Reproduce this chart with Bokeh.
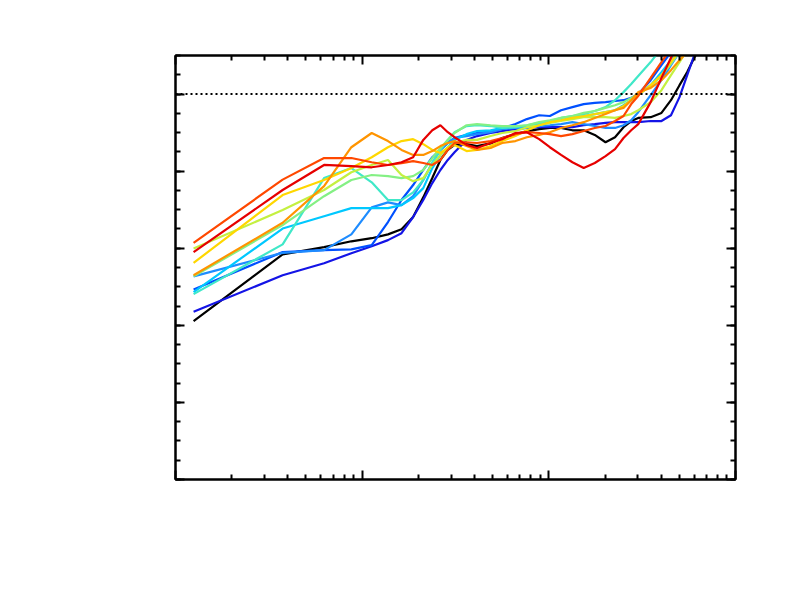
from bokeh.plotting import figure
from bokeh.models import Range1d, LogAxis, LinearAxis, FixedTicker, Span
from bokeh.embed import file_html
from bokeh.resources import INLINE

# frequency bins (shared x values)
x_vals = [1.25, 3.75, 6.25, 8.75, 11.25, 13.75, 16.25, 18.75, 21.25, 23.75, 26.25,
          28.75, 31.25, 36.25, 41.25, 48.75, 56.25, 66.25, 76.25, 88.75, 101.25,
          116.25, 133.75, 153.75, 176.25, 201.25, 226.25, 251.25, 276.25, 301.25,
          351.25, 401.25, 451.25, 501.25, 551.25, 601.25, 651.25, 701.25]

s_black = [0.411, 0.584, 0.603, 0.618, 0.626, 0.636, 0.649, 0.681, 0.732, 0.782, 0.829, 0.855,
           0.868, 0.870, 0.865, 0.872, 0.886, 0.896, 0.903, 0.909, 0.912, 0.912, 0.906, 0.906,
           0.894, 0.875, 0.888, 0.914, 0.930, 0.938, 0.940, 0.951, 0.984, 1.023, 1.057, 1.094, 1.125]
s_blue = [0.435, 0.530, 0.561, 0.587, 0.605, 0.621, 0.639, 0.681, 0.725, 0.769, 0.803, 0.829,
          0.849, 0.881, 0.891, 0.899, 0.904, 0.909, 0.912, 0.914, 0.914, 0.914, 0.914, 0.919,
          0.922, 0.925, 0.927, 0.927, 0.927, 0.927, 0.930, 0.930, 0.945, 0.992, 1.049, 1.101, 1.140]
s_royal = [0.493, 0.590, 0.595, 0.597, 0.608, 0.668, 0.725, 0.764, 0.803, 0.836, 0.855, 0.873,
           0.886, 0.894, 0.899, 0.904, 0.912, 0.922, 0.935, 0.945, 0.943, 0.958, 0.966, 0.974,
           0.977, 0.979, 0.982, 0.984, 0.990, 1.000, 1.036, 1.075, 1.109]
s_azure = [0.527, 0.588, 0.595, 0.636, 0.706, 0.719, 0.712, 0.735, 0.777, 0.821, 0.855, 0.873,
           0.886, 0.891, 0.896, 0.901, 0.909, 0.912, 0.912, 0.917, 0.919, 0.922, 0.927, 0.922,
           0.917, 0.912, 0.912, 0.919, 0.932, 0.953, 0.997, 1.036, 1.075, 1.109]
s_cyan = [0.486, 0.651, 0.683, 0.704, 0.704, 0.704, 0.712, 0.730, 0.756, 0.808, 0.842, 0.862,
          0.881, 0.896, 0.904, 0.906, 0.912, 0.914, 0.917, 0.922, 0.927, 0.932, 0.938, 0.943,
          0.948, 0.953, 0.958, 0.971, 0.984, 0.997, 1.023, 1.057, 1.088, 1.114]
s_turq = [0.481, 0.610, 0.782, 0.808, 0.771, 0.725, 0.725, 0.745, 0.777, 0.823, 0.855, 0.881,
          0.901, 0.917, 0.919, 0.917, 0.912, 0.914, 0.919, 0.925, 0.930, 0.938, 0.943, 0.948,
          0.956, 0.966, 0.984, 1.005, 1.026, 1.047, 1.083, 1.119]
s_green = [0.527, 0.660, 0.735, 0.777, 0.790, 0.787, 0.782, 0.787, 0.803, 0.834, 0.860, 0.881,
           0.899, 0.919, 0.922, 0.919, 0.917, 0.917, 0.919, 0.927, 0.932, 0.938, 0.943, 0.951,
           0.956, 0.964, 0.971, 0.979, 0.990, 1.000, 1.021, 1.047, 1.078, 1.109]
s_lime = [0.599, 0.699, 0.751, 0.797, 0.816, 0.829, 0.790, 0.774, 0.782, 0.816, 0.842, 0.862,
          0.873, 0.881, 0.881, 0.891, 0.899, 0.904, 0.914, 0.919, 0.925, 0.930, 0.935, 0.940,
          0.940, 0.940, 0.938, 0.943, 0.948, 0.958, 0.979, 1.010, 1.049, 1.083, 1.114]
s_yellow = [0.562, 0.738, 0.777, 0.808, 0.836, 0.862, 0.878, 0.883, 0.870, 0.855, 0.847, 0.860,
            0.868, 0.852, 0.855, 0.865, 0.878, 0.891, 0.906, 0.919, 0.927, 0.932, 0.938, 0.943,
            0.948, 0.953, 0.958, 0.969, 0.984, 0.997, 1.023, 1.049, 1.083, 1.114]
s_orange = [0.530, 0.666, 0.761, 0.862, 0.899, 0.878, 0.855, 0.842, 0.842, 0.852, 0.865, 0.873,
            0.878, 0.865, 0.855, 0.860, 0.873, 0.878, 0.888, 0.894, 0.901, 0.912, 0.919, 0.927,
            0.938, 0.948, 0.958, 0.964, 0.984, 1.005, 1.016, 1.036, 1.062, 1.088, 1.109]
s_redorange = [0.614, 0.778, 0.834, 0.834, 0.823, 0.816, 0.821, 0.826, 0.821, 0.816, 0.829, 0.855,
               0.873, 0.875, 0.873, 0.878, 0.886, 0.896, 0.901, 0.899, 0.896, 0.891, 0.896, 0.904,
               0.912, 0.917, 0.930, 0.943, 0.974, 0.995, 1.042, 1.083, 1.119]
s_red = [0.590, 0.751, 0.816, 0.813, 0.810, 0.816, 0.823, 0.836, 0.881, 0.906, 0.919, 0.901,
         0.888, 0.868, 0.860, 0.873, 0.883, 0.899, 0.901, 0.883, 0.862, 0.842, 0.823, 0.808,
         0.821, 0.839, 0.857, 0.886, 0.906, 0.922, 0.979, 1.042, 1.094, 1.140]

series = [
    (s_black, "#000000"),
    (s_blue, "#1414e6"),
    (s_royal, "#0050ff"),
    (s_azure, "#1e8cff"),
    (s_cyan, "#00c8ff"),
    (s_turq, "#40e8c8"),
    (s_green, "#84f084"),
    (s_lime, "#c4f040"),
    (s_yellow, "#ffd700"),
    (s_orange, "#ff9400"),
    (s_redorange, "#ff4800"),
    (s_red, "#e60000"),
]

ref_level = 1.0
x_major = [1, 10, 100, 1000]
x_minor = [m * d for d in (1, 10, 100) for m in range(2, 10)]
y_major = [0.0, 0.2, 0.4, 0.6, 0.8, 1.0]
y_minor = [round(0.05 * i, 2) for i in range(23)]

p = figure(width=778, height=583, x_axis_type="log",
           x_range=Range1d(1, 1000), y_range=Range1d(0, 1.1),
           output_backend="svg", toolbar_location=None,
           min_border_left=175, min_border_right=43,
           min_border_top=55, min_border_bottom=104)

p.grid.visible = False
p.outline_line_color = "black"
p.outline_line_width = 2
p.background_fill_color = "white"
p.border_fill_color = "white"

for ys, col in series:
    p.line(x_vals[:len(ys)], ys, line_color=col, line_width=2.2)

p.add_layout(Span(location=ref_level, dimension="width", line_color="black",
                  line_dash="2 3", line_width=2))

p.add_layout(LogAxis(), "above")
p.add_layout(LinearAxis(), "right")

for ax in p.xaxis:
    ax.ticker = FixedTicker(ticks=x_major, minor_ticks=x_minor)
for ax in p.yaxis:
    ax.ticker = FixedTicker(ticks=y_major, minor_ticks=y_minor)

for ax in p.xaxis + p.yaxis:
    ax.axis_line_width = 2
    ax.axis_line_color = "black"
    ax.major_tick_in = 9
    ax.major_tick_out = 0
    ax.minor_tick_in = 5
    ax.minor_tick_out = 0
    ax.major_tick_line_width = 2
    ax.minor_tick_line_width = 2
    ax.major_label_text_font_size = "0px"
    ax.major_label_text_color = None

open("out.html", "w").write(file_html(p, INLINE))
